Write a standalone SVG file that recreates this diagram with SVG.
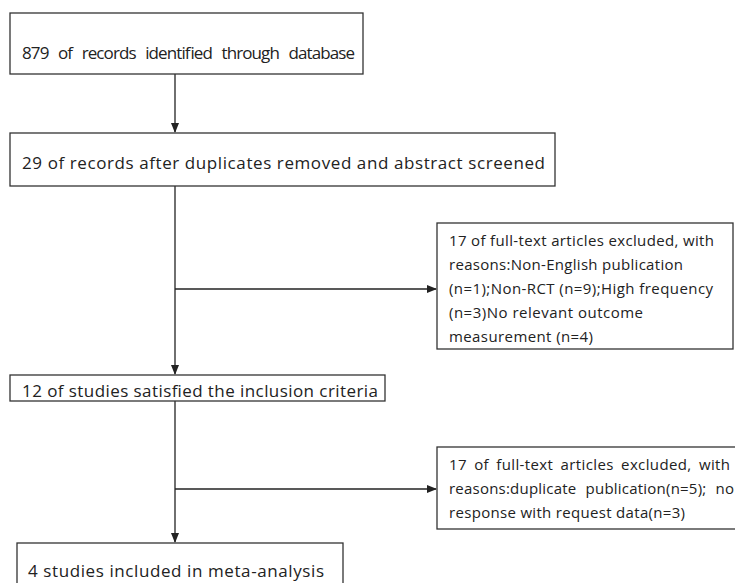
<svg xmlns="http://www.w3.org/2000/svg" width="735" height="583" viewBox="0 0 735 583">
<style>
.box{fill:#fff;stroke:#333;stroke-width:1.3}
.t{font-family:"Open Sans","Noto Sans",sans-serif;font-size:17px;fill:#222}
.s{font-family:"Open Sans","Noto Sans",sans-serif;font-size:15px;fill:#222}
.c{stroke:#222;stroke-width:1.3;fill:none}
</style>
<defs>
<marker id="ah" markerWidth="10" markerHeight="8" refX="9" refY="4" orient="auto" markerUnits="userSpaceOnUse">
<path d="M0,0 L10,4 L0,8 Z" fill="#222"/>
</marker>
</defs>
<g id="connectors">
<line class="c" x1="175" y1="74" x2="175" y2="132" marker-end="url(#ah)"/>
<line class="c" x1="175" y1="186" x2="175" y2="374" marker-end="url(#ah)"/>
<line class="c" x1="175" y1="401" x2="175" y2="542" marker-end="url(#ah)"/>
<line class="c" x1="175" y1="289" x2="436" y2="289" marker-end="url(#ah)"/>
<line class="c" x1="175" y1="489" x2="436" y2="489" marker-end="url(#ah)"/>
</g>
<g id="n1">
<rect class="box" x="10" y="13" width="353" height="61"/>
<text class="t" x="22" y="59" word-spacing="6" textLength="333" lengthAdjust="spacing">879 of records identified through database</text>
</g>
<g id="n2">
<rect class="box" x="10" y="133" width="545" height="53"/>
<text class="t" x="22" y="169" textLength="523" lengthAdjust="spacing">29 of records after duplicates removed and abstract screened</text>
</g>
<g id="e1">
<rect class="box" x="437" y="223" width="296" height="126"/>
<text class="s" x="449" y="246" textLength="265" lengthAdjust="spacing">17 of full-text articles excluded, with</text>
<text class="s" x="449" y="270" textLength="234" lengthAdjust="spacing">reasons:Non-English publication</text>
<text class="s" x="449" y="294" textLength="264" lengthAdjust="spacing">(n=1);Non-RCT (n=9);High frequency</text>
<text class="s" x="449" y="318" textLength="194" lengthAdjust="spacing">(n=3)No relevant outcome</text>
<text class="s" x="449" y="342" textLength="144" lengthAdjust="spacing">measurement (n=4)</text>
</g>
<g id="n3">
<rect class="box" x="10" y="375" width="375" height="26"/>
<text class="t" x="22" y="397" textLength="356" lengthAdjust="spacing">12 of studies satisfied the inclusion criteria</text>
</g>
<g id="e2">
<rect class="box" x="437" y="447" width="310" height="82"/>
<text class="s" x="449" y="470" word-spacing="3" textLength="281" lengthAdjust="spacing">17 of full-text articles excluded, with</text>
<text class="s" x="449" y="494" word-spacing="5" textLength="285" lengthAdjust="spacing">reasons:duplicate publication(n=5); no</text>
<text class="s" x="449" y="518" textLength="236" lengthAdjust="spacing">response with request data(n=3)</text>
</g>
<g id="n4">
<rect class="box" x="17" y="543" width="326" height="60"/>
<text class="t" x="28" y="577" textLength="296" lengthAdjust="spacing">4 studies included in meta-analysis</text>
</g>
</svg>
